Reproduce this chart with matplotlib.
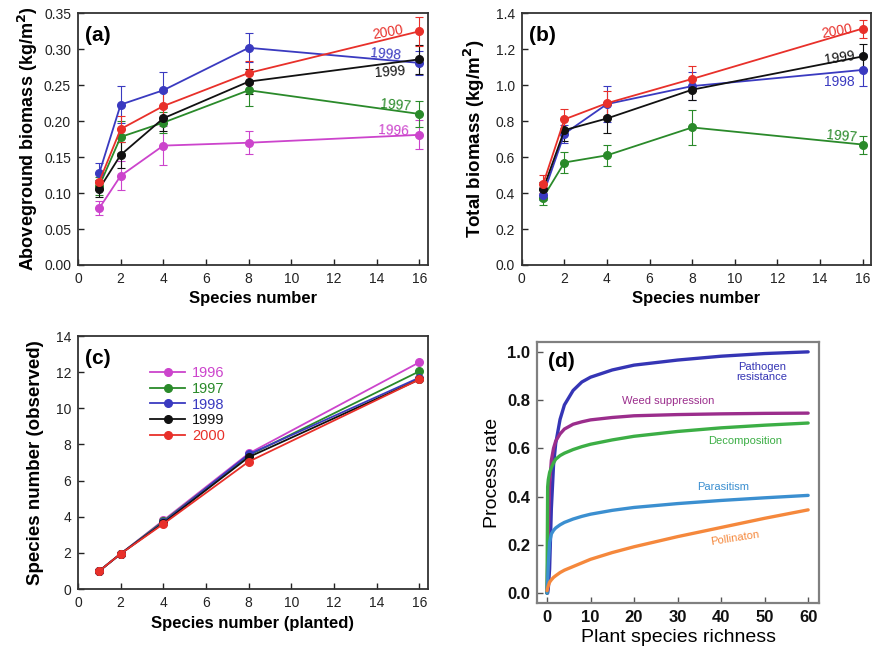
import numpy as np
import matplotlib
matplotlib.use("Agg")
import matplotlib.pyplot as plt

plt.rcParams["font.family"] = ["Liberation Sans", "DejaVu Sans"]

# Panels (a)-(c): species number planted
species = [1, 2, 4, 8, 16]
years = ["1996", "1997", "1998", "1999", "2000"]
year_colors = ["#cc44cc", "#2a8a2a", "#3a3ac0", "#111111", "#e8302a"]

# (a) aboveground biomass (kg/m2)
agb_1996 = [0.079, 0.124, 0.166, 0.170, 0.181]
agb_1997 = [0.110, 0.178, 0.198, 0.243, 0.210]
agb_1998 = [0.128, 0.223, 0.243, 0.302, 0.281]
agb_1999 = [0.106, 0.153, 0.204, 0.255, 0.286]
agb_2000 = [0.116, 0.189, 0.221, 0.267, 0.325]
agb_err_1996 = [0.010, 0.020, 0.027, 0.016, 0.020]
agb_err_1997 = [0.012, 0.022, 0.015, 0.022, 0.018]
agb_err_1998 = [0.014, 0.026, 0.025, 0.020, 0.017]
agb_err_1999 = [0.012, 0.018, 0.017, 0.017, 0.020]
agb_err_2000 = [0.012, 0.018, 0.020, 0.016, 0.020]

# (b) total biomass (kg/m2), 1997-2000
tb_1997 = [0.375, 0.570, 0.610, 0.765, 0.670]
tb_1998 = [0.390, 0.730, 0.895, 0.995, 1.085]
tb_1999 = [0.420, 0.750, 0.815, 0.975, 1.160]
tb_2000 = [0.450, 0.810, 0.900, 1.035, 1.315]
tb_err_1997 = [0.04, 0.06, 0.06, 0.095, 0.05]
tb_err_1998 = [0.03, 0.05, 0.10, 0.08, 0.09]
tb_err_1999 = [0.04, 0.06, 0.08, 0.06, 0.07]
tb_err_2000 = [0.05, 0.06, 0.07, 0.07, 0.05]

# (c) observed species number
obs_1996 = [1.0, 1.95, 3.80, 7.50, 12.55]
obs_1997 = [1.0, 1.95, 3.75, 7.40, 12.05]
obs_1998 = [1.0, 1.95, 3.70, 7.45, 11.70]
obs_1999 = [1.0, 1.95, 3.65, 7.30, 11.60]
obs_2000 = [1.0, 1.95, 3.60, 7.05, 11.60]

# (d) process rate vs plant species richness
richness = [0, 0.15, 0.3, 0.6, 1, 1.5, 2, 3, 4, 6, 8, 10, 15, 20, 30, 40, 50, 60]
pathogen = [0.0, 0.0, 0.02, 0.10, 0.35, 0.53, 0.62, 0.72, 0.78, 0.84, 0.875,
            0.895, 0.925, 0.945, 0.966, 0.982, 0.993, 1.0]
weed = [0.0, 0.12, 0.25, 0.45, 0.55, 0.60, 0.63, 0.66, 0.68, 0.70, 0.71,
        0.718, 0.728, 0.735, 0.740, 0.743, 0.745, 0.746]
decomp = [0.0, 0.44, 0.47, 0.50, 0.52, 0.54, 0.555, 0.57, 0.58, 0.595, 0.607,
          0.617, 0.635, 0.65, 0.67, 0.685, 0.696, 0.705]
parasit = [0.0, 0.05, 0.12, 0.21, 0.245, 0.26, 0.27, 0.283, 0.293, 0.307,
           0.318, 0.327, 0.343, 0.355, 0.371, 0.384, 0.395, 0.405]
pollin = [0.01, 0.02, 0.03, 0.045, 0.055, 0.065, 0.072, 0.085, 0.095, 0.11,
          0.125, 0.14, 0.168, 0.192, 0.234, 0.272, 0.31, 0.345]

fig = plt.figure(figsize=(8.74, 6.52), dpi=100)
ax_a = fig.add_axes([0.0892, 0.5936, 0.4005, 0.386])
ax_b = fig.add_axes([0.597, 0.5936, 0.3997, 0.386])
ax_c = fig.add_axes([0.0892, 0.0966, 0.4005, 0.388])
ax_d = fig.add_axes([0.6144, 0.0752, 0.3227, 0.4003])


def style_small(ax):
    ax.set_xlim(0, 16.4)
    ax.set_xticks(range(0, 17, 2))
    ax.tick_params(direction="in", labelsize=10, length=4, width=1,
                   colors="#222222", pad=5)
    for s in ax.spines.values():
        s.set_linewidth(1.3)
        s.set_color("#333333")
    ax.set_xlabel("Species number", fontsize=12, fontweight="bold")


def draw_err(ax, y, err, color):
    ax.errorbar(species, y, yerr=err, color=color, marker="o", ms=5.5,
                lw=1.3, elinewidth=0.8, capsize=3, capthick=0.8)


# (a)
agb = [agb_1996, agb_1997, agb_1998, agb_1999, agb_2000]
agb_err = [agb_err_1996, agb_err_1997, agb_err_1998, agb_err_1999, agb_err_2000]
for y, e, c in zip(agb, agb_err, year_colors):
    draw_err(ax_a, y, e, c)
style_small(ax_a)
ax_a.set_ylim(0, 0.35)
ax_a.set_yticks(np.arange(0, 0.351, 0.05))
ax_a.set_yticklabels([f"{v:.2f}" for v in np.arange(0, 0.351, 0.05)])
ax_a.set_ylabel("Aboveground biomass (kg/m$^\\mathbf{2}$)", fontsize=13,
                fontweight="bold", labelpad=3)
ax_a.text(0.02, 0.95, "(a)", transform=ax_a.transAxes, fontsize=15,
          fontweight="bold", va="top")
a_labels = [("1996", 14.8, 0.187, -3), ("1997", 14.9, 0.222, -5),
            ("1998", 14.4, 0.293, -5), ("1999", 14.6, 0.268, 4),
            ("2000", 14.5, 0.324, 10)]
for (t, x, y, r), c in zip(a_labels, year_colors):
    ax_a.text(x, y, t, color=c, fontsize=10, ha="center", va="center",
              rotation=r)

# (b)
tb = [tb_1997, tb_1998, tb_1999, tb_2000]
tb_err = [tb_err_1997, tb_err_1998, tb_err_1999, tb_err_2000]
for y, e, c in zip(tb, tb_err, year_colors[1:]):
    draw_err(ax_b, y, e, c)
style_small(ax_b)
ax_b.set_ylim(0, 1.4)
ax_b.set_yticks(np.arange(0, 1.41, 0.2))
ax_b.set_yticklabels([f"{v:.1f}" for v in np.arange(0, 1.41, 0.2)])
ax_b.set_ylabel("Total biomass (kg/m$^\\mathbf{2}$)", fontsize=13.5,
                fontweight="bold", labelpad=6)
ax_b.text(0.02, 0.95, "(b)", transform=ax_b.transAxes, fontsize=15,
          fontweight="bold", va="top")
b_labels = [("1997", 15.0, 0.715, -5), ("1998", 14.9, 1.02, 0),
            ("1999", 14.9, 1.15, 8), ("2000", 14.8, 1.30, 10)]
for (t, x, y, r), c in zip(b_labels, year_colors[1:]):
    ax_b.text(x, y, t, color=c, fontsize=10, ha="center", va="center",
              rotation=r)

# (c)
obs = [obs_1996, obs_1997, obs_1998, obs_1999, obs_2000]
for y, c, t in zip(obs, year_colors, years):
    ax_c.plot(species, y, color=c, marker="o", ms=5.5, lw=1.3, label=t)
style_small(ax_c)
ax_c.set_ylim(0, 14)
ax_c.set_yticks(range(0, 15, 2))
ax_c.set_xlabel("Species number (planted)", fontsize=12, fontweight="bold")
ax_c.set_ylabel("Species number (observed)", fontsize=13.5,
                fontweight="bold", labelpad=8)
ax_c.text(0.02, 0.95, "(c)", transform=ax_c.transAxes, fontsize=15,
          fontweight="bold", va="top")
leg = ax_c.legend(loc="upper left", bbox_to_anchor=(0.185, 0.91),
                  frameon=False, fontsize=10.5, handlelength=2.4,
                  handletextpad=0.5, labelspacing=0.12, borderpad=0)
for txt, c in zip(leg.get_texts(), year_colors):
    txt.set_color(c)

# (d)
curves = [pathogen, weed, decomp, parasit, pollin]
curve_colors = ["#3535b5", "#9b2d8c", "#3cae45", "#3b8fd0", "#f5883c"]
for y, c in zip(curves, curve_colors):
    ax_d.plot(richness, y, color=c, lw=2.4, solid_capstyle="round")
ax_d.set_xlim(-2.3, 62.5)
ax_d.set_ylim(-0.041, 1.041)
ax_d.set_xticks(range(0, 61, 10))
ax_d.set_yticks(np.arange(0, 1.01, 0.2))
ax_d.set_yticklabels([f"{v:.1f}" for v in np.arange(0, 1.01, 0.2)])
ax_d.tick_params(direction="in", labelsize=12, length=4, width=1,
                 colors="#555555", labelcolor="#111111", pad=5)
for lab in ax_d.get_xticklabels() + ax_d.get_yticklabels():
    lab.set_fontweight("bold")
for s in ax_d.spines.values():
    s.set_linewidth(1.6)
    s.set_color("#808080")
ax_d.set_xlabel("Plant species richness", fontsize=14, labelpad=3)
ax_d.set_ylabel("Process rate", fontsize=14)
ax_d.text(0.04, 0.96, "(d)", transform=ax_d.transAxes, fontsize=15,
          fontweight="bold", va="top")
d_labels = [("Pathogen\nresistance", 49.4, 0.917, 0),
            ("Weed suppression", 27.8, 0.797, 0),
            ("Decomposition", 45.5, 0.63, 0),
            ("Parasitism", 40.5, 0.44, 0),
            ("Pollinaton", 43.2, 0.228, 9)]
for (t, x, y, r), c in zip(d_labels, curve_colors):
    ax_d.text(x, y, t, color=c, fontsize=8, ha="center", va="center",
              rotation=r, linespacing=1.0)

fig.savefig("out.png", dpi=100)
